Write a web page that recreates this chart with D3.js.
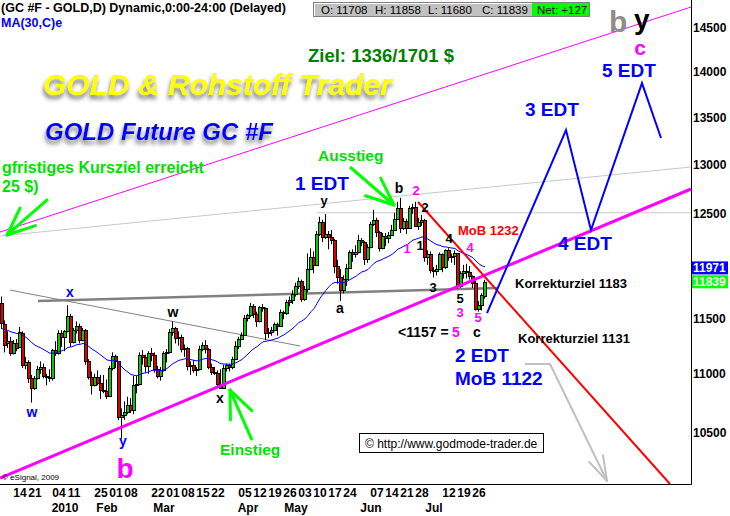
<!DOCTYPE html>
<html><head><meta charset="utf-8">
<script src="https://cdn.jsdelivr.net/npm/d3@7"></script>
<style>
body{margin:0;background:#fff}
svg{display:block}
text{font-family:"Liberation Sans",Arial,Helvetica,sans-serif}
</style>
</head><body>
<svg id="chart" width="730" height="516"></svg>
<script>
// ---------------- DATA ----------------
const openP=[11640,11450,11270,11290,11180,11270,11240,11360,11080,11100,10960,10880,10960,11040,11060,10980,10970,
10960,11210,11180,11360,11330,11380,11520,11280,11390,11430,11300,11390,11110,10970,10900,10970,10920,10860,10850,
10810,11050,11160,11110,10630,10640,10670,10730,10690,10900,10910,11170,11150,11070,11180,11170,11040,10980,11030,
11180,11190,11370,11410,11320,11330,11220,11230,11070,11080,11030,11040,11220,11260,11220,11060,11020,11010,10910,10880,11050,11080,11060,
11130,11250,11310,11350,11500,11530,11610,11540,11470,11600,11590,11360,11370,11390,11450,11430,11560,11550,11650,11670,11720,
11800,11850,11680,11770,11960,12080,12000,12300,12420,12270,12300,12270,12240,11990,11880,11760,11870,11970,12120,12100,
12120,12240,12220,12060,12170,12400,12440,12320,12160,12280,12260,12290,12340,12450,12560,12360,12430,12360,12560,12570,12380,12420,
12440,12080,12100,11950,11940,11960,12100,11980,12140,12080,12090,12110,11800,11920,11940,11930,11890,11830,11580,11620,11708];
const highP=[11700,11480,11380,11330,11300,11310,11420,11380,11150,11120,10990,10980,11070,11110,11090,11000,11040,
11220,11290,11390,11390,11390,11620,11540,11410,11470,11450,11410,11400,11130,11020,11000,11030,10990,10990,10950,
11070,11190,11170,11110,10700,10760,10800,10790,10980,10980,11190,11210,11170,11200,11230,11190,11070,11060,11200,
11220,11400,11470,11420,11380,11350,11260,11240,11110,11120,11060,11250,11280,11300,11230,11090,11060,11030,11040,11080,11090,11090,11150,
11290,11330,11370,11530,11540,11640,11630,11560,11610,11630,11600,11410,11420,11460,11460,11580,11570,11670,11700,11760,11830,
11880,11860,11800,12110,12160,12130,12330,12470,12440,12497,12330,12340,12250,12050,11960,11900,12010,12140,12150,12190,
12290,12260,12230,12200,12420,12540,12460,12330,12310,12310,12320,12390,12510,12620,12660,12460,12450,12580,12600,12620,12460,12490,
12450,12140,12130,11980,12000,12120,12110,12150,12160,12110,12140,12110,11940,12000,12010,11990,11900,11850,11660,11730,11858];
const lowP=[11400,11190,11230,11160,11170,11200,11230,11050,11040,10920,10750,10860,10950,11000,10960,10900,10930,
10940,11160,11170,11240,11200,11370,11240,11270,11360,11270,11290,11080,10950,10820,10890,10900,10780,10830,10780,
10800,11030,11050,10600,10445,10600,10650,10660,10650,10830,10900,11080,11010,11000,11110,11010,10960,10940,11020,
11100,11180,11340,11270,11250,11190,11150,11030,10990,11010,10980,11030,11200,11180,11040,10990,10990,10890,10870,10880,11020,11020,11040,
11120,11220,11300,11340,11470,11510,11500,11420,11460,11560,11300,11320,11340,11380,11340,11420,11490,11530,11610,11630,11700,
11770,11650,11660,11740,11950,11920,11990,12280,12220,12250,12150,12200,11920,11820,11660,11730,11800,11960,12030,12070,
12110,12180,12000,12020,12160,12380,12270,12130,12150,12180,12210,12280,12330,12440,12310,12340,12300,12350,12500,12370,12340,12380,
12030,12000,11920,11880,11900,11950,11930,11960,12040,12020,12000,11770,11780,11870,11870,11860,11780,11570,11560,11570,11680];
const closeP=[11460,11260,11290,11180,11270,11230,11370,11080,11100,10960,10880,10960,11040,11060,10980,10970,10960,
11210,11180,11360,11330,11380,11520,11280,11390,11430,11300,11390,11110,10970,10900,10970,10920,10860,10850,10810,
11050,11160,11110,10630,10640,10670,10730,10690,10900,10910,11170,11150,11070,11180,11170,11040,10980,11030,11180,
11190,11370,11410,11320,11330,11220,11230,11070,11080,11030,11040,11220,11260,11220,11060,11020,11010,10910,10880,11050,11080,11060,11130,
11250,11310,11350,11500,11530,11610,11540,11470,11600,11590,11360,11370,11390,11450,11430,11560,11550,11650,11670,11720,11800,
11850,11680,11770,11960,12080,12000,12300,12420,12270,12300,12270,12240,11990,11880,11760,11870,11970,12120,12100,12120,
12240,12220,12060,12170,12400,12440,12320,12160,12280,12260,12290,12340,12450,12560,12360,12430,12360,12560,12570,12380,12420,12440,
12080,12100,11950,11940,11960,12100,11980,12140,12080,12090,12110,11800,11920,11940,11930,11890,11830,11580,11620,11712,11839];

const firstDay="2009-12-08", lastDay="2010-07-30";
const holidays=["2009-12-25","2010-01-01","2010-01-18","2010-02-15","2010-04-02","2010-05-31","2010-07-05"];
const tickDates=["2009-12-14","2009-12-21","2010-01-04","2010-01-11","2010-01-25","2010-02-01","2010-02-08","2010-02-22",
"2010-03-01","2010-03-08","2010-03-15","2010-03-22","2010-04-05","2010-04-12","2010-04-19","2010-04-26",
"2010-05-03","2010-05-10","2010-05-17","2010-05-24","2010-06-07","2010-06-14","2010-06-21","2010-06-28",
"2010-07-12","2010-07-19","2010-07-26"];
const monthNames=["2010","Feb","Mar","Apr","May","Jun","Jul"];
const monthDates=["2010-01-08","2010-01-29","2010-02-26","2010-04-08","2010-04-30","2010-06-07","2010-07-07"];
const yTicks=[10500,11000,11500,12500,13000,13500,14000,14500];
const maPeriod=30, maSeed=11400;
const lastMA=11971, lastClose=11839;
const hdrO=11708, hdrH=11858, hdrL=11680, hdrC=11839, hdrNet=127;

// hand drawn studies: [trading-day index, price]
const upperChannel=[[-0.67,12319],[229.67,14745]];
const lowerChannel=[[-0.67,10121],[229.67,12750]];
const greySlant=[[-0.67,12280],[229.67,12976]];
const greyFlat=[[105,12510],[229.67,12510]];
const neckLine=[[12,11658],[165,11780]];
const wTrend=[[2.67,11761],[99.33,11247]];
const redTrend=[[138.67,12618],[222.67,10073]];
const edtPath=[[161.67,11547],[188,13365],[196.33,12339],[213.33,13876],[219.67,13280]];
const greyArrow=[[174.33,11086],[182.67,11086],[201.67,10097]];
const greenArrows=[ [[15.33,12648],[1.67,12290]], [[116,12976],[130.67,12588]], [[83.33,10433],[76,10858]] ];

// ---------------- CHART ----------------
const svg=d3.select("#chart");
const W=691, H=484;
const fmt=d3.timeFormat("%Y-%m-%d"), parse=d3.timeParse("%Y-%m-%d");
const days=d3.timeDay.range(parse(firstDay), d3.timeDay.offset(parse(lastDay),1))
  .filter(d=>d.getDay()!==0&&d.getDay()!==6&&!holidays.includes(fmt(d))).map(fmt);
const idx=s=>days.indexOf(s);
const bars=days.map((d,i)=>({d,i,o:openP[i],h:highP[i],l:lowP[i],c:closeP[i]}));

const x=d3.scaleLinear().domain([0,days.length-1]).range([2,2+3*(days.length-1)]);
const y=d3.scaleLog().domain([10073,14828]).range([H,0]);

const defs=svg.append("defs");
defs.append("clipPath").attr("id","plot").append("rect").attr("x",0).attr("y",0).attr("width",W).attr("height",H);
const sh=defs.append("filter").attr("id","shadow").attr("x","-10%").attr("y","-30%").attr("width","130%").attr("height","180%");
sh.append("feDropShadow").attr("dx",-1).attr("dy",4).attr("stdDeviation",2).attr("flood-color","#7a7a7a");

const g=svg.append("g").attr("clip-path","url(#plot)");
const line=d3.line().x(d=>x(d[0])).y(d=>y(d[1]));

// study lines (behind)
g.append("path").attr("d",line(greySlant)).attr("stroke","#c8c8c8").attr("fill","none").attr("stroke-width",1);
g.append("path").attr("d",line(greyFlat)).attr("stroke","#c8c8c8").attr("fill","none").attr("stroke-width",1);
g.append("path").attr("d",line(upperChannel)).attr("stroke","#ff00ff").attr("fill","none").attr("stroke-width",1);
g.append("path").attr("d",line(wTrend)).attr("stroke","#808080").attr("fill","none").attr("stroke-width",1);
g.append("path").attr("d",line(neckLine)).attr("stroke","#808080").attr("fill","none").attr("stroke-width",2.5);

// candles
const cg=g.append("g");
cg.selectAll("line.w").data(bars).join("line").attr("class","w")
  .attr("x1",d=>x(d.i)-0.5).attr("x2",d=>x(d.i)-0.5).attr("y1",d=>y(d.h)).attr("y2",d=>y(d.l))
  .attr("stroke","#000").attr("stroke-width",1);
cg.selectAll("rect").data(bars).join("rect")
  .attr("x",d=>x(d.i)-1.5).attr("width",3)
  .attr("y",d=>Math.round(y(Math.max(d.o,d.c)))+0.5)
  .attr("height",d=>Math.max(1,Math.round(y(Math.min(d.o,d.c)))-Math.round(y(Math.max(d.o,d.c)))))
  .attr("fill",d=>d.c>=d.o?"#00d000":"#e00000").attr("stroke","#000").attr("stroke-width",1);

// EMA
const alpha=2/(maPeriod+1);
let e=maSeed;
const ema=closeP.map((c,i)=>{e=e+alpha*(c-e);return [i,e];});
g.append("path").attr("d",line(ema)).attr("stroke","#0000ff").attr("fill","none").attr("stroke-width",1);

// lower channel, red trend, projection
g.append("path").attr("d",line(lowerChannel)).attr("stroke","#ff00ff").attr("fill","none").attr("stroke-width",3);
g.append("path").attr("d",line(redTrend)).attr("stroke","#ff0000").attr("fill","none").attr("stroke-width",2);
g.append("path").attr("d",line(edtPath)).attr("stroke","#0000ff").attr("fill","none").attr("stroke-width",2);

function arrow(pts,color,w,len,ang){
  g.append("path").attr("d",line(pts)).attr("stroke",color).attr("fill","none").attr("stroke-width",w).attr("stroke-linejoin","round");
  const a=pts[pts.length-2], b=pts[pts.length-1];
  const tx=x(b[0]), ty=y(b[1]);
  const th=Math.atan2(y(a[1])-ty, x(a[0])-tx);
  [ang,-ang].forEach(k=>{
    g.append("line").attr("x1",tx).attr("y1",ty)
     .attr("x2",tx+len*Math.cos(th+k)).attr("y2",ty+len*Math.sin(th+k))
     .attr("stroke",color).attr("stroke-width",w).attr("stroke-linecap","round");
  });
}
arrow(greyArrow,"#c0c0c0",2,26,0.3);
greenArrows.forEach(p=>arrow(p,"#00ff00",3,30,0.4));

// axes
svg.append("line").attr("x1",W+0.5).attr("x2",W+0.5).attr("y1",0).attr("y2",H+0.5).attr("stroke","#000");
svg.append("line").attr("x1",0).attr("x2",W+0.5).attr("y1",H+0.5).attr("y2",H+0.5).attr("stroke","#000");
svg.append("g").selectAll("text").data(yTicks).join("text")
  .attr("x",W+2).attr("y",d=>y(d)+4.5).text(d=>d)
  .attr("font-size",12).attr("font-weight","bold").attr("fill","#000");
// value boxes
[[lastMA,"#0000ff"],[lastClose,"#00ff00"]].forEach(([v,col])=>{
  svg.append("rect").attr("x",W+1).attr("y",y(v)-6.5).attr("width",36).attr("height",13).attr("fill",col);
  svg.append("text").attr("x",W+2).attr("y",y(v)+4.5).text(v).attr("font-size",12).attr("font-weight","bold").attr("fill","#fff");
});
// date axis
svg.append("g").selectAll("text").data(tickDates).join("text")
  .attr("x",d=>x(idx(d))+6).attr("y",497).attr("text-anchor","middle")
  .text(d=>d.slice(8,10)).attr("font-size",12).attr("font-weight","bold");
svg.append("g").selectAll("text").data(monthNames).join("text")
  .attr("x",(d,i)=>x(idx(monthDates[i]))).attr("y",512).attr("text-anchor","middle")
  .text(d=>d).attr("font-size",12).attr("font-weight","bold");

// ---------------- TEXT ----------------
function T(s,xx,yy,o={}){
  const t=svg.append("text").attr("x",xx).attr("y",yy).text(s)
   .attr("font-size",o.size||12).attr("font-weight",o.weight||"bold").attr("fill",o.color||"#000")
   .attr("text-anchor",o.anchor||"start");
  if(o.italic) t.attr("font-style","italic");
  if(o.filter) t.attr("filter",o.filter);
  return t;
}
T("(GC #F - GOLD,D) Dynamic,0:00-24:00 (Delayed)",1,12,{size:12.5});
T("MA(30,C)e",1,27,{color:"#0000ff",size:12.5});
// OHLC header box
svg.append("rect").attr("x",313.5).attr("y",2.5).attr("width",276).attr("height",14).attr("fill","#c0c0c0").attr("stroke","#808080");
svg.append("path").attr("d","M314.5,16V3.5H589").attr("stroke","#fff").attr("fill","none");
svg.append("rect").attr("x",532).attr("y",3).attr("width",57).attr("height",13).attr("fill","#00ff00");
T("O: "+hdrO,321,14,{size:11.5,weight:"normal"});
T("H: "+hdrH,375,14,{size:11.5,weight:"normal"});
T("L: "+hdrL,428,14,{size:11.5,weight:"normal"});
T("C: "+hdrC,482,14,{size:11.5,weight:"normal"});
T("Net: +"+hdrNet,537,14,{size:11.5,weight:"normal"});

T("b",609,32,{size:30,color:"#8c8c8c"});
T("y",634,29,{size:28});
T("c",640,55,{size:21,color:"#ff00ff",anchor:"middle"});
T("Ziel: 1336/1701 $",308,62,{size:18.5,color:"#008000"});
T("GOLD & Rohstoff Trader",43,95,{size:30,color:"#ffff00",italic:true,filter:"url(#shadow)"});
T("GOLD Future GC #F",45,140,{size:24,color:"#0000ff",italic:true,filter:"url(#shadow)"});
T("gfristiges Kursziel erreicht",2,173,{size:16,color:"#00e000"});
T("25 $)",2,192,{size:16,color:"#00e000"});
T("Ausstieg",318,161,{size:15.5,color:"#00e000"});
T("Einstieg",220,455,{size:15.5,color:"#00e000"});

T("1 EDT",295,190,{size:19,color:"#0000ff"});
T("2 EDT",455,362,{size:19,color:"#0000ff"});
T("MoB 1122",455,385,{size:19,color:"#0000ff"});
T("3 EDT",525,116,{size:19,color:"#0000ff"});
T("4 EDT",558,250,{size:19,color:"#0000ff"});
T("5 EDT",602,77,{size:19,color:"#0000ff"});
T("MoB 1232",458,235,{size:13,color:"#ff0000"});
T("Korrekturziel 1183",515,288,{size:13});
T("Korrekturziel 1131",518,343,{size:13});
T("<1157 =",398,337,{size:14});
T("5",452,337,{size:14,color:"#ff00ff"});

const wl=(s,xx,yy,col,sz)=>T(s,xx,yy,{size:sz||14,color:col,anchor:"middle"});
wl("x",70,297,"#0000ff");
wl("w",32,417,"#0000ff");
wl("w",173,317,"#000");
wl("x",220,403,"#000");
wl("y",123,446,"#0000ff");
wl("b",125,478,"#ff00ff",28);
wl("y",324,205,"#000",13);
wl("a",340,313,"#000");
wl("b",399,193,"#000");
wl("2",416,195,"#ff00ff",13);
wl("2",425,212,"#000",13);
wl("1",407,253,"#ff00ff",13);
wl("1",420,250,"#000",13);
wl("4",449,243,"#000",13);
wl("4",470,252,"#ff00ff",13);
wl("3",433,292,"#000",13);
wl("5",460,303,"#000",13);
wl("3",460,317,"#ff00ff",13);
wl("5",478,322,"#ff00ff",13);
wl("c",477,337,"#000",14);

svg.append("rect").attr("x",359.5).attr("y",433.5).attr("width",184).attr("height",19).attr("fill","#fff").attr("stroke","#000");
T("\u00a9 http://www.godmode-trader.de",365,448,{size:12,weight:"normal"});
T("\u00a9 eSignal, 2009",2,480,{size:8,weight:"normal"});
</script>
</body></html>
